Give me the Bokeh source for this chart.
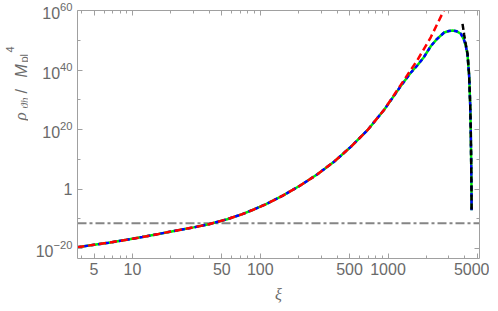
import numpy as np
from bokeh.plotting import figure
from bokeh.models import (Range1d, FixedTicker, LogAxis, Span, Label, CustomJSTickFormatter,
                          GlobalInlineStyleSheet)
from bokeh.layouts import row
from bokeh.embed import file_html
from bokeh.resources import INLINE

# ---- data (log10 of rho / M_pl^4) ----
xi_red = [3.7, 5.0, 6.5, 9.0, 11.9, 16, 21.7, 30, 39.6, 55, 72.4, 90, 110, 150, 207,
          280, 378, 511, 690, 930, 1258, 1700, 2160, 2750, 3000]
log_rho_red = [-19.5, -18.7, -18.0, -17.0, -16.1, -15.05, -13.95, -12.85, -11.8, -10.1, -8.4,
               -6.75, -5.1, -2.2, 1.3, 5.0, 9.2, 14.2, 19.8, 26.6, 35.0, 43.4, 51.0, 60.2, 64.0]

xi_num = [3.7, 5.0, 6.5, 9.0, 11.9, 16, 21.7, 30, 39.6, 55, 72.4, 90, 110, 150, 207,
          280, 378, 511, 690, 930, 1258, 1500, 1700, 1900, 2160, 2400, 2750, 3000, 3200,
          3450, 3715, 3945, 4065, 4190, 4315, 4400, 4445, 4480, 4500, 4510]
log_rho_num = [-19.5, -18.7, -18.0, -17.0, -16.1, -15.05, -13.95, -12.85, -11.8, -10.1, -8.4,
               -6.75, -5.1, -2.2, 1.3, 5.0, 9.2, 14.2, 19.8, 26.6, 34.6, 39.0, 41.6, 44.2,
               48.0, 50.3, 52.6, 53.1, 53.3, 53.0, 52.2, 50.0, 48.0, 45.2, 38.0, 28.0, 19.0,
               8.0, 0.0, -7.1]

xi_black = [3830, 3945, 4065, 4190, 4315, 4400, 4445, 4480, 4500, 4510]
log_rho_black = [55.5, 51.8, 48.6, 45.6, 38.2, 28.0, 19.0, 8.0, 0.0, -7.0]

log_rho_level = [-11.5]

x_major = [5, 10, 50, 100, 500, 1000, 5000]
x_tick_labels = ["5", "10", "50", "100", "500", "1000", "5000"]
x_minor = [4, 6, 7, 8, 9, 20, 30, 40, 60, 70, 80, 90, 200, 300, 400, 600, 700, 800, 900,
           2000, 3000, 4000]
y_major = [1e-20, 1, 1e20, 1e40, 1e60]
y_minor = [1e-10, 1e10, 1e30, 1e50]
x_limits = [3.71, 5200]
y_limits_log = [-23.3, 60]

GRAY_LINE = "#a0a0a0"
GRAY_TEXT = "#6a6a6a"

p = figure(frame_width=402, frame_height=248, x_axis_type="log", y_axis_type="log",
           x_range=Range1d(x_limits[0], x_limits[1]),
           y_range=Range1d(10 ** y_limits_log[0], 10 ** y_limits_log[1]),
           output_backend="svg", toolbar_location=None, title=None,
           min_border_left=49, min_border_right=10, min_border_top=10, min_border_bottom=53)
p.outline_line_color = None
p.grid.visible = False
p.background_fill_color = "white"
p.border_fill_color = "white"
p.stylesheets = [GlobalInlineStyleSheet(css="html, body { overflow: hidden; }")]

def style_axis(ax, ticker):
    ax.ticker = ticker
    ax.axis_line_color = GRAY_LINE
    ax.axis_line_width = 1
    ax.major_tick_line_color = GRAY_LINE
    ax.minor_tick_line_color = GRAY_LINE
    ax.major_tick_in = 5
    ax.major_tick_out = 0
    ax.minor_tick_in = 3
    ax.minor_tick_out = 0
    ax.major_label_text_color = GRAY_TEXT
    ax.major_label_text_font = "Liberation Sans"
    ax.major_label_text_font_size = "16px"

style_axis(p.xaxis[0], FixedTicker(ticks=x_major, minor_ticks=x_minor))
p.xaxis[0].major_label_overrides = dict(zip(x_major, x_tick_labels))
p.xaxis[0].major_label_standoff = 4
p.xaxis[0].axis_label = "ξ"
p.xaxis[0].axis_label_text_font = "Liberation Serif"
p.xaxis[0].axis_label_text_font_style = "italic"
p.xaxis[0].axis_label_text_font_size = "16px"
p.xaxis[0].axis_label_text_color = GRAY_TEXT
p.xaxis[0].axis_label_standoff = 8

style_axis(p.yaxis[0], FixedTicker(ticks=y_major, minor_ticks=y_minor))
p.yaxis[0].major_label_overrides = {1: "1"}
p.yaxis[0].major_label_standoff = 5

blank = CustomJSTickFormatter(code="return ''")
top = LogAxis(formatter=blank)
style_axis(top, FixedTicker(ticks=x_major, minor_ticks=x_minor))
top.major_label_text_font_size = "0px"
top.major_label_standoff = 0
p.add_layout(top, "above")

right = LogAxis(formatter=blank)
style_axis(right, FixedTicker(ticks=y_major, minor_ticks=y_minor))
right.major_label_text_font_size = "0px"
right.major_label_standoff = 0
p.add_layout(right, "right")

# horizontal dot-dashed level
span = Span(location=10 ** log_rho_level[0], dimension="width", line_color="#858585",
            line_width=2, line_dash="9 3 3 3", level="underlay")
p.add_layout(span)

rho_num = [10 ** v for v in log_rho_num]
rho_red = [10 ** v for v in log_rho_red]
rho_black = [10 ** v for v in log_rho_black]

p.line(xi_num, rho_num, line_color="#00ee00", line_width=2.5)
p.line(xi_num, rho_num, line_color="#0000ff", line_width=2.5, line_dash="4 3")
p.line(xi_red, rho_red, line_color="#ff0000", line_width=2.5, line_dash="7 4")
p.line(xi_black, rho_black, line_color="#000000", line_width=2.5, line_dash="6 3")

# ---- y axis label, composed in a narrow side panel ----
lf = figure(width=28, height=311, min_border=0, x_axis_location=None,
            y_axis_location=None, toolbar_location=None, output_backend="svg", title=None,
            x_range=Range1d(0, 1), y_range=Range1d(0, 1))
lf.outline_line_color = None
lf.grid.visible = False
lf.background_fill_color = "white"
lf.border_fill_color = "white"

def lab(text, x, y, size, italic=False, font="Liberation Sans"):
    L = Label(x=x, y=y, x_units="screen", y_units="screen", text=text,
              text_font_size=size, text_font=font, text_color=GRAY_TEXT,
              text_font_style="italic" if italic else "normal",
              angle=np.pi / 2, text_align="left", text_baseline="alphabetic")
    lf.add_layout(L)

lab("ρ", 20, 138, "17px", italic=True, font="Liberation Serif")
lab("ϑh", 23.5, 150, "11px", italic=True, font="Liberation Serif")
lab("/", 21, 165, "16px")
lab("M", 21, 181, "16px", italic=True)
lab("pl", 23.5, 196, "11px")
lab("4", 9, 206, "11px")

layout = row(lf, p)
open("out.html", "w").write(file_html(layout, INLINE))
